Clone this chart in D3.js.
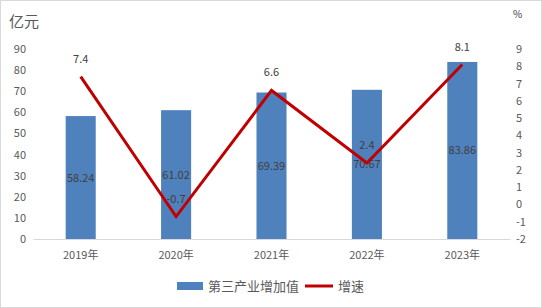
<!DOCTYPE html>
<html>
<head>
<meta charset="utf-8">
<script src="https://cdn.jsdelivr.net/npm/d3@7"></script>
<style>
  body { margin: 0; background: #fff; }
  svg text { font-family: "Noto Sans CJK SC", "Liberation Sans", sans-serif; }
</style>
</head>
<body>
<div id="chart"></div>
<script>
// data
const years = ["2019年", "2020年", "2021年", "2022年", "2023年"];
const addedValue = [58.24, 61.02, 69.39, 70.67, 83.86];
const growth = [7.4, -0.7, 6.6, 2.4, 8.1];
const leftTicks = [0, 10, 20, 30, 40, 50, 60, 70, 80, 90];
const rightTicks = [-2, -1, 0, 1, 2, 3, 4, 5, 6, 7, 8, 9];

const W = 542, H = 308;
const margin = {top: 49, right: 32, bottom: 69, left: 33};

const svg = d3.select("#chart").append("svg")
    .attr("width", W)
    .attr("height", H);

// outer border
svg.append("rect")
    .attr("x", 0.5).attr("y", 0.5)
    .attr("width", W - 1).attr("height", H - 1)
    .attr("fill", "#fff")
    .attr("stroke", "#d9d9d9");

const x = d3.scaleBand()
    .domain(years)
    .range([margin.left, W - margin.right])
    .paddingInner(0.685)
    .paddingOuter(0.3425);

const y = d3.scaleLinear()
    .domain([0, 90])
    .range([H - margin.bottom, margin.top]);

const y2 = d3.scaleLinear()
    .domain([-2, 9])
    .range([H - margin.bottom, margin.top]);

const textColor = "#595959";

// left axis
const leftAxis = svg.append("g")
    .attr("transform", `translate(${margin.left - 7},0)`)
    .call(d3.axisLeft(y).tickValues(leftTicks).tickSize(0).tickPadding(0));
leftAxis.select(".domain").remove();
leftAxis.selectAll("text")
    .attr("fill", textColor)
    .style("font-size", "11px");

// right axis (plain hyphen for negatives)
const rightAxis = svg.append("g")
    .attr("transform", `translate(${W - margin.right + 6},0)`)
    .call(d3.axisRight(y2).tickValues(rightTicks).tickFormat(d => String(d)).tickSize(0).tickPadding(0));
rightAxis.select(".domain").remove();
rightAxis.selectAll("text")
    .attr("fill", textColor)
    .style("font-size", "11px");

// x axis
const xAxis = svg.append("g")
    .attr("transform", `translate(0,${H - margin.bottom})`)
    .call(d3.axisBottom(x).tickSize(0).tickPadding(12));
xAxis.select(".domain")
    .attr("stroke", "#d9d9d9");
xAxis.selectAll("text")
    .attr("fill", textColor)
    .style("font-size", "11px");

// bars
svg.selectAll(".bar")
    .data(addedValue)
    .enter()
    .append("rect")
    .attr("class", "bar")
    .attr("x", (d, i) => x(years[i]))
    .attr("y", d => y(d))
    .attr("width", x.bandwidth())
    .attr("height", d => y(0) - y(d))
    .attr("fill", "#4f81bd");

// bar labels
svg.selectAll(".bar-label")
    .data(addedValue)
    .enter()
    .append("text")
    .attr("class", "bar-label")
    .attr("x", (d, i) => x(years[i]) + x.bandwidth() / 2)
    .attr("y", d => (y(d) + y(0)) / 2 + 4)
    .attr("text-anchor", "middle")
    .attr("fill", "#404040")
    .style("font-size", "11px")
    .text(d => d.toFixed(2));

// growth line
const line = d3.line()
    .x((d, i) => x(years[i]) + x.bandwidth() / 2)
    .y(d => y2(d));

svg.append("path")
    .datum(growth)
    .attr("d", line)
    .attr("fill", "none")
    .attr("stroke", "#c00000")
    .attr("stroke-width", 3)
    .attr("stroke-linejoin", "miter");

svg.selectAll(".line-label")
    .data(growth)
    .enter()
    .append("text")
    .attr("class", "line-label")
    .attr("x", (d, i) => x(years[i]) + x.bandwidth() / 2)
    .attr("y", d => y2(d) - 14)
    .attr("text-anchor", "middle")
    .attr("fill", "#404040")
    .style("font-size", "11px")
    .text(d => String(d));

// axis titles
svg.append("text")
    .attr("x", 9).attr("y", 27)
    .attr("fill", textColor)
    .style("font-size", "15px")
    .text("亿元");

svg.append("text")
    .attr("x", 513).attr("y", 18)
    .attr("fill", "#404040")
    .style("font-size", "10px")
    .text("%");

// legend
const legend = svg.append("g")
    .attr("transform", "translate(177,286)");
legend.append("rect")
    .attr("x", 0).attr("y", -4)
    .attr("width", 26).attr("height", 8)
    .attr("fill", "#4f81bd");
legend.append("text")
    .attr("x", 31).attr("y", 4.5)
    .attr("fill", textColor)
    .style("font-size", "13px")
    .text("第三产业增加值");
legend.append("line")
    .attr("x1", 128).attr("x2", 156)
    .attr("y1", 0).attr("y2", 0)
    .attr("stroke", "#c00000")
    .attr("stroke-width", 3);
legend.append("text")
    .attr("x", 161).attr("y", 4.5)
    .attr("fill", textColor)
    .style("font-size", "13px")
    .text("增速");
</script>
</body>
</html>
